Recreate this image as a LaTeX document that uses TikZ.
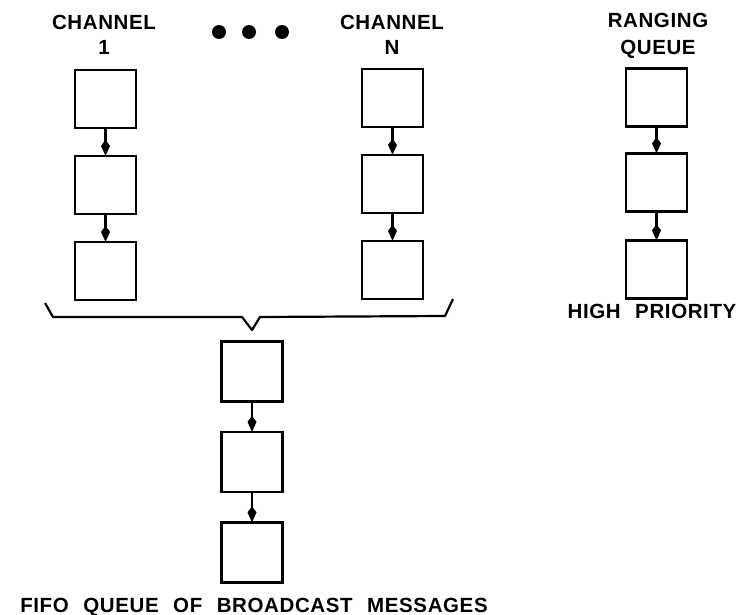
\documentclass[tikz,border=0pt]{standalone}
\usepackage{fontspec}
\newfontfamily\labfont{Liberation Sans}[LetterSpace=3,WordSpace=2.3]
\usetikzlibrary{arrows.meta}
\begin{document}
\begin{tikzpicture}[x=1pt,y=-1pt,
  qbox/.style={draw,line width=2.2pt,minimum width=61pt,minimum height=58pt,inner sep=0pt},
  qarrow/.style={line width=2.8pt,-{Kite[length=16pt,width=9pt,inset=6pt]},shorten >=-1pt},
  lab/.style={inner sep=0pt,anchor=base,font=\labfont\bfseries\fontsize{20.5}{24}\selectfont},
  brace/.style={line width=2.2pt,line join=round}]
\useasboundingbox (0,0) rectangle (740,615);
% channel 1
\node[qbox] (c1a) at (105.5,99) {};
\node[qbox] (c1b) at (105.5,185) {};
\node[qbox] (c1c) at (105.5,271) {};
% channel N
\node[qbox] (cna) at (392.5,98) {};
\node[qbox] (cnb) at (392.5,184) {};
\node[qbox] (cnc) at (392.5,270) {};
% ranging queue
\node[qbox] (rqa) at (656.5,97.5) {};
\node[qbox] (rqb) at (656.5,182.5) {};
\node[qbox] (rqc) at (656.5,269.5) {};
% fifo queue
\node[qbox,minimum height=60pt] (bqa) at (252,371.5) {};
\node[qbox,minimum height=60pt] (bqb) at (252,462) {};
\node[qbox,minimum height=60pt] (bqc) at (252,552.5) {};
% arrows
\foreach \a/\b in {c1a/c1b,c1b/c1c,cna/cnb,cnb/cnc,rqa/rqb,rqb/rqc,bqa/bqb,bqb/bqc}
  \draw[qarrow] (\a) -- (\b);
% brace
\coordinate (bl) at (45,303);
\coordinate (br) at (453,299);
\coordinate (bt) at (252,330);
\draw[brace] (bl) -- (53,317) -- (242,317) -- (bt) -- (260,317) -- (445,316) -- (br);
% dots
\foreach \x/\n in {219/d1,249/d2,282/d3}
  \fill (\x,32) circle (7pt);
% labels
\node[lab] (t1) at (104,30) {CHANNEL};
\node[lab] (t1b) at (104,55) {1};
\node[lab] (tn) at (392,30) {CHANNEL};
\node[lab] (tnb) at (392,55) {N};
\node[lab] (tr) at (658,28) {RANGING};
\node[lab] (trb) at (658,55) {QUEUE};
\node[lab] (thp) at (652,319) {HIGH PRIORITY};
\node[lab] (tf) at (254,612) {FIFO QUEUE OF BROADCAST MESSAGES};
\end{tikzpicture}
\end{document}
